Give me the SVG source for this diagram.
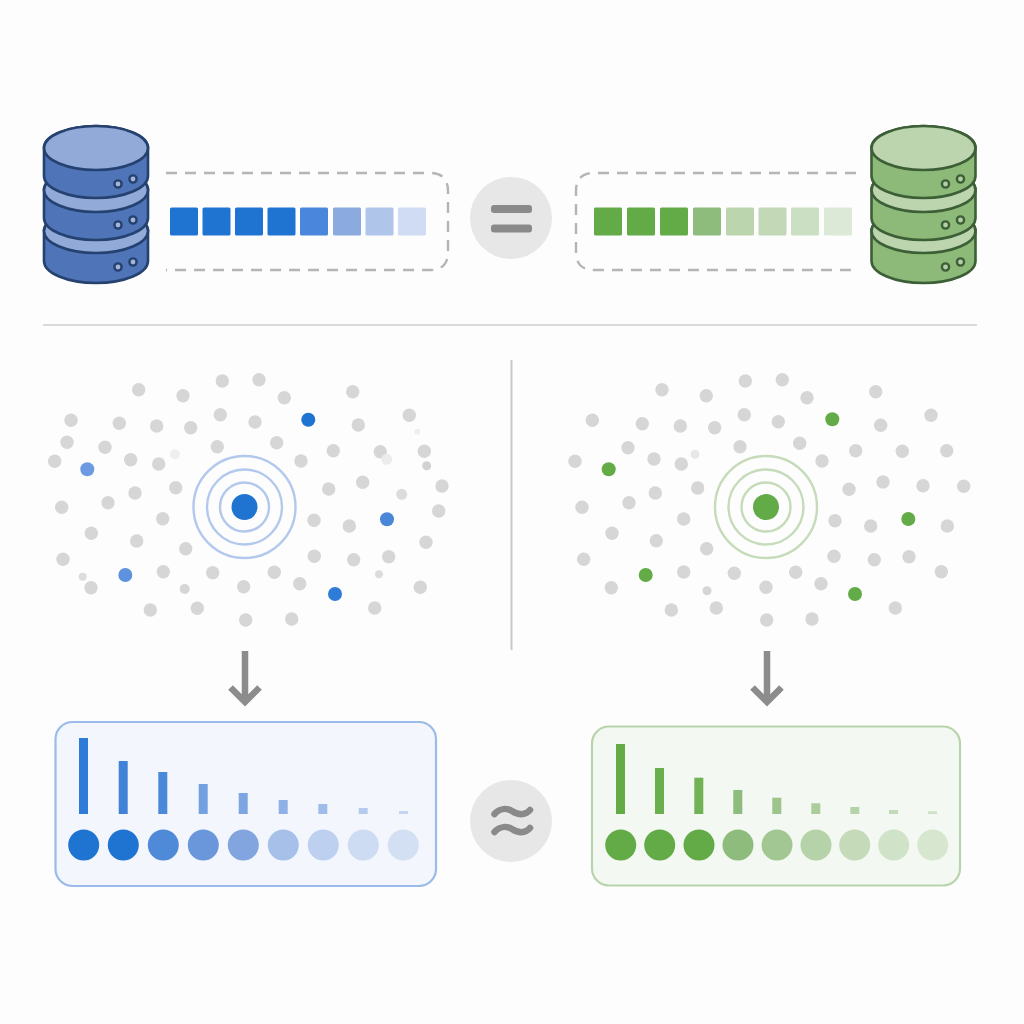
<svg xmlns="http://www.w3.org/2000/svg" width="1024" height="1024" viewBox="0 0 1024 1024">
<style>
.bl{--s:#4f74b8;--t:#92aad8;--p:#a4b6d6;--k:#24416f}
.gr{--s:#8dba78;--t:#bcd5ae;--p:#b4cfa6;--k:#3d5f38}
.s{fill:var(--s);stroke:var(--k);stroke-width:2.600}
.t{fill:var(--t);stroke:var(--k);stroke-width:2.600}
.p{fill:var(--p);stroke:var(--k);stroke-width:2.400}
.dash{fill:none;stroke:#b5b5b5;stroke-width:2.400;stroke-dasharray:11 8}
.op{fill:#e7e7e7}
.mark{fill:none;stroke:#8a8a8a;stroke-width:6.500;stroke-linecap:round}
.arrow{fill:none;stroke:#8c8c8c;stroke-width:6.500}
.d circle{fill:#d6d6d6;r:6.700px}
.ringb{fill:none;stroke:#b2c8ec;stroke-width:2.400}
.ringg{fill:none;stroke:#c5dbb9;stroke-width:2.400}
.sq rect{y:207.500px;width:28px;height:28px;rx:1.500px}
.dots circle{cy:845px;r:15.500px}
</style>
<defs>
<g id="db">
<path class="s" d="M44,231V261A52,22 0 0 0 148,261V231A52,22 0 0 0 44,231Z"/>
<ellipse class="t" cx="96" cy="231" rx="52" ry="22"/>
<path class="s" d="M44,190V218A52,22 0 0 0 148,218V190A52,22 0 0 0 44,190Z"/>
<ellipse class="t" cx="96" cy="190" rx="52" ry="22"/>
<path class="s" d="M44,148V176A52,22 0 0 0 148,176V148A52,22 0 0 0 44,148Z"/>
<ellipse class="t" cx="96" cy="148" rx="52" ry="22"/>
<circle class="p" cx="118" cy="184" r="3.600"/><circle class="p" cx="133" cy="179" r="3.600"/>
<circle class="p" cx="118" cy="225" r="3.600"/><circle class="p" cx="133" cy="220" r="3.600"/>
<circle class="p" cx="118" cy="267" r="3.600"/><circle class="p" cx="133" cy="262" r="3.600"/>
</g>
</defs>
<rect width="1024" height="1024" fill="#fdfdfd"/>

<g id="store-blue" class="bl"><use href="#db"/></g>
<g id="store-green" class="gr"><use href="#db" x="827.500"/></g>

<g id="sequence-blue" class="sq">
<path class="dash" d="M166,173H430Q448,173 448,191V252Q448,270 430,270H166"/>
<rect x="170" fill="#1f74d2"/><rect x="202.500" fill="#1f74d2"/><rect x="235" fill="#1f74d2"/><rect x="267.500" fill="#1f74d2"/>
<rect x="300" fill="#4a87dc"/><rect x="333" fill="#8aaae0"/><rect x="365.500" fill="#afc5ea"/><rect x="398" fill="#d0dcf3"/>
</g>

<g id="sequence-green" class="sq">
<path class="dash" d="M856,173H594Q576,173 576,191V252Q576,270 594,270H856"/>
<rect x="594" fill="#63ab46"/><rect x="627" fill="#63ab46"/><rect x="660" fill="#63ab46"/>
<rect x="693" fill="#8ebc7c"/><rect x="726" fill="#bbd5ae"/><rect x="758.500" fill="#c2d8b7"/><rect x="791" fill="#cbdfc2"/><rect x="824" fill="#dde9d7"/>
</g>

<g id="equals">
<circle class="op" cx="511" cy="218" r="41"/>
<rect x="491" y="205" width="41" height="8" rx="3" fill="#8a8a8a"/>
<rect x="491" y="224.500" width="41" height="8" rx="3" fill="#8a8a8a"/>
</g>

<g id="dividers" stroke-width="2">
<path d="M43,325H977" stroke="#dadada"/>
<path d="M511.500,360V650" stroke="#c9c9c9"/>
</g>

<g id="cloud-blue">
<g class="d">
<circle cx="138.700" cy="389.700"/><circle cx="183" cy="395.700"/><circle cx="222.300" cy="381"/><circle cx="259" cy="379.700"/><circle cx="284.300" cy="397.700"/><circle cx="352.700" cy="391.700"/>
<circle cx="71" cy="420.300"/><circle cx="119.300" cy="423.300"/><circle cx="156.700" cy="426"/><circle cx="190.700" cy="427.700"/><circle cx="220.300" cy="414.700"/><circle cx="255" cy="422"/><circle cx="358.300" cy="425"/><circle cx="409.300" cy="415.300"/>
<circle cx="67" cy="442.300"/><circle cx="105" cy="447.300"/><circle cx="130.700" cy="459.700"/><circle cx="158.700" cy="464"/><circle cx="217.300" cy="446.700"/><circle cx="276.700" cy="442.700"/><circle cx="333.300" cy="450.700"/><circle cx="380.300" cy="451.700"/><circle cx="424.300" cy="451.300"/>
<circle cx="54.700" cy="461.300"/><circle cx="301" cy="461"/>
<circle cx="135" cy="493"/><circle cx="108" cy="502.700"/><circle cx="175.700" cy="487.700"/><circle cx="328.700" cy="489"/><circle cx="362.700" cy="482.300"/><circle cx="442" cy="486"/>
<circle cx="61.700" cy="507.300"/><circle cx="438.700" cy="511"/><circle cx="162.700" cy="518.700"/><circle cx="314" cy="520.300"/><circle cx="349.300" cy="526"/>
<circle cx="91.300" cy="533.300"/><circle cx="136.700" cy="541"/><circle cx="185.700" cy="548.700"/><circle cx="426" cy="542.300"/>
<circle cx="63" cy="559.300"/><circle cx="314.300" cy="556.300"/><circle cx="353.700" cy="559.700"/><circle cx="388.700" cy="556.700"/>
<circle cx="163.300" cy="571.700"/><circle cx="212.700" cy="572.700"/><circle cx="274.300" cy="572.300"/><circle cx="299.700" cy="583.700"/>
<circle cx="91" cy="587.700"/><circle cx="243.700" cy="586.700"/><circle cx="420.300" cy="587.300"/>
<circle cx="150.300" cy="610"/><circle cx="197.300" cy="608.300"/><circle cx="245.700" cy="620"/><circle cx="291.700" cy="619"/><circle cx="374.700" cy="608"/>
</g>
<g>
<circle cx="426.700" cy="465.700" r="4.500" fill="#d2d2d2"/><circle cx="401.700" cy="494.300" r="5.500" fill="#dcdcdc"/><circle cx="184.700" cy="589" r="5" fill="#d6d6d6"/>
<circle cx="82.700" cy="576.700" r="4" fill="#dcdcdc"/><circle cx="379" cy="574.300" r="4" fill="#dcdcdc"/>
<circle cx="175" cy="454.300" r="5" fill="#efefef"/><circle cx="386.700" cy="459.300" r="5.500" fill="#ececec"/><circle cx="417.300" cy="431.700" r="3" fill="#efefef"/>
</g>
<circle cx="308.300" cy="419.700" r="7" fill="#1f74d2"/><circle cx="87.300" cy="469.300" r="7" fill="#6d9ae0"/><circle cx="387" cy="519.300" r="7" fill="#4a87d8"/><circle cx="125.300" cy="575" r="7" fill="#5f92dc"/><circle cx="335" cy="594" r="7" fill="#2f7bd8"/>
<circle class="ringb" cx="244.500" cy="507" r="24.500"/><circle class="ringb" cx="244.500" cy="507" r="37.500"/><circle class="ringb" cx="244.500" cy="507" r="51"/>
<circle cx="244.500" cy="507" r="13" fill="#1f74d2"/>
</g>

<g id="cloud-green">
<g class="d">
<circle cx="662" cy="389.700"/><circle cx="706.300" cy="395.700"/><circle cx="745.300" cy="381"/><circle cx="782.300" cy="379.700"/><circle cx="807" cy="397.700"/><circle cx="875.700" cy="391.700"/>
<circle cx="592.300" cy="420.300"/><circle cx="642.300" cy="423.700"/><circle cx="680.300" cy="426"/><circle cx="714.700" cy="427.700"/><circle cx="744.300" cy="414.700"/><circle cx="778.300" cy="421.700"/><circle cx="880.700" cy="425.300"/><circle cx="931" cy="415.300"/>
<circle cx="628" cy="447.700"/><circle cx="654" cy="459"/><circle cx="681.300" cy="464"/><circle cx="740" cy="446.700"/><circle cx="799.700" cy="443.300"/><circle cx="855.700" cy="450.700"/><circle cx="902.300" cy="451.300"/><circle cx="946.700" cy="450.700"/>
<circle cx="575" cy="461.300"/><circle cx="822" cy="461"/>
<circle cx="655.300" cy="493"/><circle cx="629" cy="502.700"/><circle cx="697.700" cy="488"/><circle cx="849" cy="489.300"/><circle cx="883" cy="482"/><circle cx="923" cy="485.700"/><circle cx="963.700" cy="486.300"/>
<circle cx="582" cy="507.300"/><circle cx="683.700" cy="519"/><circle cx="835" cy="520.700"/><circle cx="870.700" cy="526"/><circle cx="947.300" cy="526"/>
<circle cx="612" cy="533.300"/><circle cx="656.300" cy="540.700"/><circle cx="706.700" cy="548.700"/>
<circle cx="583.700" cy="559.300"/><circle cx="834" cy="556.300"/><circle cx="874.300" cy="559.700"/><circle cx="909" cy="556.700"/>
<circle cx="683.700" cy="572"/><circle cx="734.300" cy="573.300"/><circle cx="795.700" cy="572.300"/><circle cx="821" cy="583.700"/><circle cx="941.300" cy="571.700"/>
<circle cx="611.300" cy="587.700"/><circle cx="766" cy="587.300"/>
<circle cx="671.300" cy="610"/><circle cx="716.300" cy="608"/><circle cx="766.700" cy="620"/><circle cx="812" cy="619"/><circle cx="895.300" cy="608"/>
</g>
<circle cx="695" cy="454.300" r="4.500" fill="#e8e8e8"/><circle cx="707" cy="590.700" r="4.500" fill="#d6d6d6"/>
<circle cx="832.300" cy="419.300" r="7" fill="#63ab46"/><circle cx="608.700" cy="469.300" r="7" fill="#63ab46"/><circle cx="908.300" cy="519" r="7" fill="#63ab46"/><circle cx="645.700" cy="575" r="7" fill="#63ab46"/><circle cx="855" cy="594" r="7" fill="#63ab46"/>
<circle class="ringg" cx="766" cy="507" r="24.500"/><circle class="ringg" cx="766" cy="507" r="37.500"/><circle class="ringg" cx="766" cy="507" r="51"/>
<circle cx="766" cy="507" r="13" fill="#63ab46"/>
</g>

<g id="connectors">
<path class="arrow" d="M245,651V702M230.500,687.500L245,702L259.500,687.500"/>
<path class="arrow" d="M767,651V702M752.500,687.500L767,702L781.500,687.500"/>
</g>

<g id="panel-blue" class="dots">
<rect x="55.500" y="722" width="380.500" height="164" rx="17" fill="#f3f6fc" stroke="#9bbbe8" stroke-width="2.200"/>
<rect x="79" y="738" width="9" height="76" fill="#2f7bd8"/><rect x="118.700" y="761" width="9" height="53" fill="#3f82d8"/><rect x="158.300" y="772" width="9" height="42" fill="#4a88da"/><rect x="198.700" y="784" width="9" height="30" fill="#72a0e0"/><rect x="238.700" y="793" width="9" height="21" fill="#7da5e2"/><rect x="278.700" y="800" width="9" height="14" fill="#8fb0e6"/><rect x="318.300" y="804" width="9" height="10" fill="#a0bdea"/><rect x="358.700" y="808" width="9" height="6" fill="#b5cbee"/><rect x="399" y="811" width="9" height="3" fill="#c4d5f1"/>
<circle cx="83.700" fill="#1f74d2"/><circle cx="123.300" fill="#1f74d2"/><circle cx="163.300" fill="#4f8ad8"/><circle cx="203.300" fill="#6a97dc"/><circle cx="243.300" fill="#82a4df"/><circle cx="283.300" fill="#a6c0ea"/><circle cx="323.300" fill="#bed0ef"/><circle cx="363.300" fill="#cddcf3"/><circle cx="403.300" fill="#d3e0f4"/>
</g>

<g id="approx">
<circle class="op" cx="511" cy="821" r="41"/>
<path class="mark" d="M494.500,814C500,808 507,808 512,811C518,815 525,816 530,810"/>
<path class="mark" d="M494.500,832C500,826 507,826 512,829C518,833 525,834 530,828"/>
</g>

<g id="panel-green" class="dots">
<rect x="592" y="726.500" width="368" height="159" rx="17" fill="#f4f8f2" stroke="#b9d4ab" stroke-width="2.200"/>
<rect x="616" y="744" width="9" height="70" fill="#63ab46"/><rect x="655" y="768" width="9" height="46" fill="#6aaf4e"/><rect x="694.300" y="777.700" width="9" height="36.300" fill="#70b255"/><rect x="733.300" y="790" width="9" height="24" fill="#8ebc7c"/><rect x="772.300" y="797.700" width="9" height="16.300" fill="#9cc48b"/><rect x="811.300" y="803.300" width="9" height="10.700" fill="#aacd9b"/><rect x="850.300" y="807" width="9" height="7" fill="#b5d3a8"/><rect x="889" y="810" width="9" height="4" fill="#c2dab7"/><rect x="928" y="811.300" width="9" height="2.700" fill="#cfe1c6"/>
<circle cx="620.700" fill="#63ab46"/><circle cx="659.700" fill="#63ab46"/><circle cx="699" fill="#63ab46"/><circle cx="738" fill="#8ebc7c"/><circle cx="777" fill="#a2c793"/><circle cx="816" fill="#b5d2a8"/><circle cx="854.700" fill="#c4dab9"/><circle cx="893.700" fill="#d0e2c8"/><circle cx="932.700" fill="#d6e6cf"/>
</g>
</svg>
